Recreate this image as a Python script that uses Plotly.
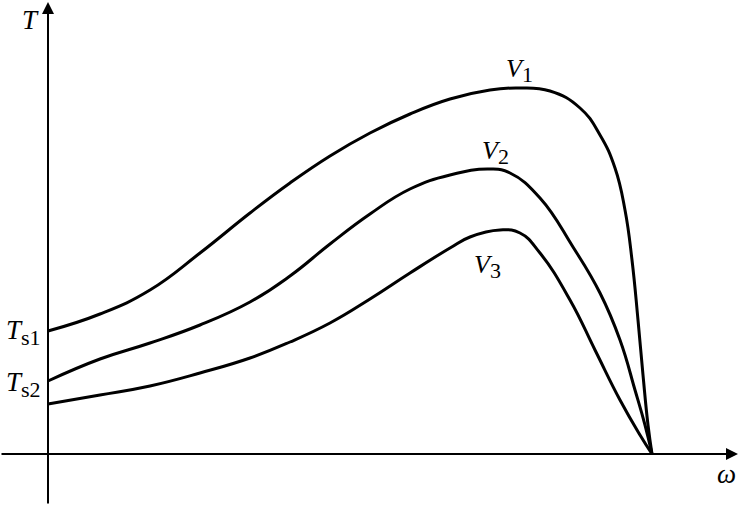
import plotly.graph_objects as go

# speed (omega) and torque samples
omega_v1 = [0, 52, 102, 152, 202, 242, 282, 322, 362, 402, 442, 469, 502, 532, 552, 567, 577, 584, 590, 595, 600, 604]
torque_v1 = [123, 140, 164, 201, 241, 271, 298, 321, 340, 355, 364, 366, 363, 346, 319, 286, 244, 194, 134, 79, 29, 0]

omega_v2 = [0, 52, 102, 152, 202, 242, 282, 322, 362, 402, 442, 462, 492, 525, 552, 572, 587, 597, 604]
torque_v2 = [73, 95, 111, 129, 152, 178, 210, 240, 265, 279, 285, 281, 256, 207, 161, 114, 64, 29, 0]

omega_v3 = [0, 52, 102, 152, 202, 242, 282, 322, 362, 402, 422, 452, 472, 492, 522, 547, 572, 592, 604]
torque_v3 = [50, 59, 68, 81, 96, 112, 131, 155, 181, 206, 217, 224, 221, 201, 154, 104, 54, 19, 0]

curve_names = ['1', '2', '3']
label_omega = [471, 447, 439]
label_torque = [384, 302, 188]

FONT = 'Liberation Serif, Times New Roman, serif'


def label(main, sub, size):
    return ('<i>' + main + '</i><sub><span style="font-size:' + str(int(size * 0.85)) + 'px">'
            + sub + '</span></sub>')


fig = go.Figure()

for xs, ys in [(omega_v1, torque_v1), (omega_v2, torque_v2), (omega_v3, torque_v3)]:
    fig.add_trace(go.Scatter(
        x=xs, y=ys, mode='lines',
        line=dict(color='black', width=3, shape='spline', smoothing=1.3),
        showlegend=False, hoverinfo='skip',
    ))

# axes with arrows
fig.add_annotation(x=690, y=0, ax=-48, ay=0, xref='x', yref='y', axref='x', ayref='y',
                   showarrow=True, arrowhead=2, arrowsize=1.2, arrowwidth=2, arrowcolor='black', text='')
fig.add_annotation(x=0, y=452, ax=0, ay=-51, xref='x', yref='y', axref='x', ayref='y',
                   showarrow=True, arrowhead=2, arrowsize=1.2, arrowwidth=2, arrowcolor='black', text='')

for n, lx, ly in zip(curve_names, label_omega, label_torque):
    fig.add_annotation(x=lx, y=ly, text=label('V', n, 26), showarrow=False,
                       font=dict(family=FONT, size=26, color='black'))

fig.add_annotation(x=-18, y=434, text='<i>T</i>', showarrow=False,
                   font=dict(family=FONT, size=27, color='black'))
fig.add_annotation(x=-25, y=122, text=label('T', 's1', 27), showarrow=False,
                   font=dict(family=FONT, size=27, color='black'))
fig.add_annotation(x=-25, y=70, text=label('T', 's2', 27), showarrow=False,
                   font=dict(family=FONT, size=27, color='black'))
fig.add_annotation(x=678, y=-20, text='<i>ω</i>', showarrow=False,
                   font=dict(family=FONT, size=27, color='black'))

fig.update_layout(
    width=741, height=505,
    paper_bgcolor='white', plot_bgcolor='white',
    margin=dict(l=0, r=0, t=0, b=0),
    xaxis=dict(range=[-48, 693], visible=False, fixedrange=True),
    yaxis=dict(range=[-51, 454], visible=False, fixedrange=True),
)

fig.write_html("out.html", config={'displayModeBar': False},
               post_script="document.body.style.margin='0';")
